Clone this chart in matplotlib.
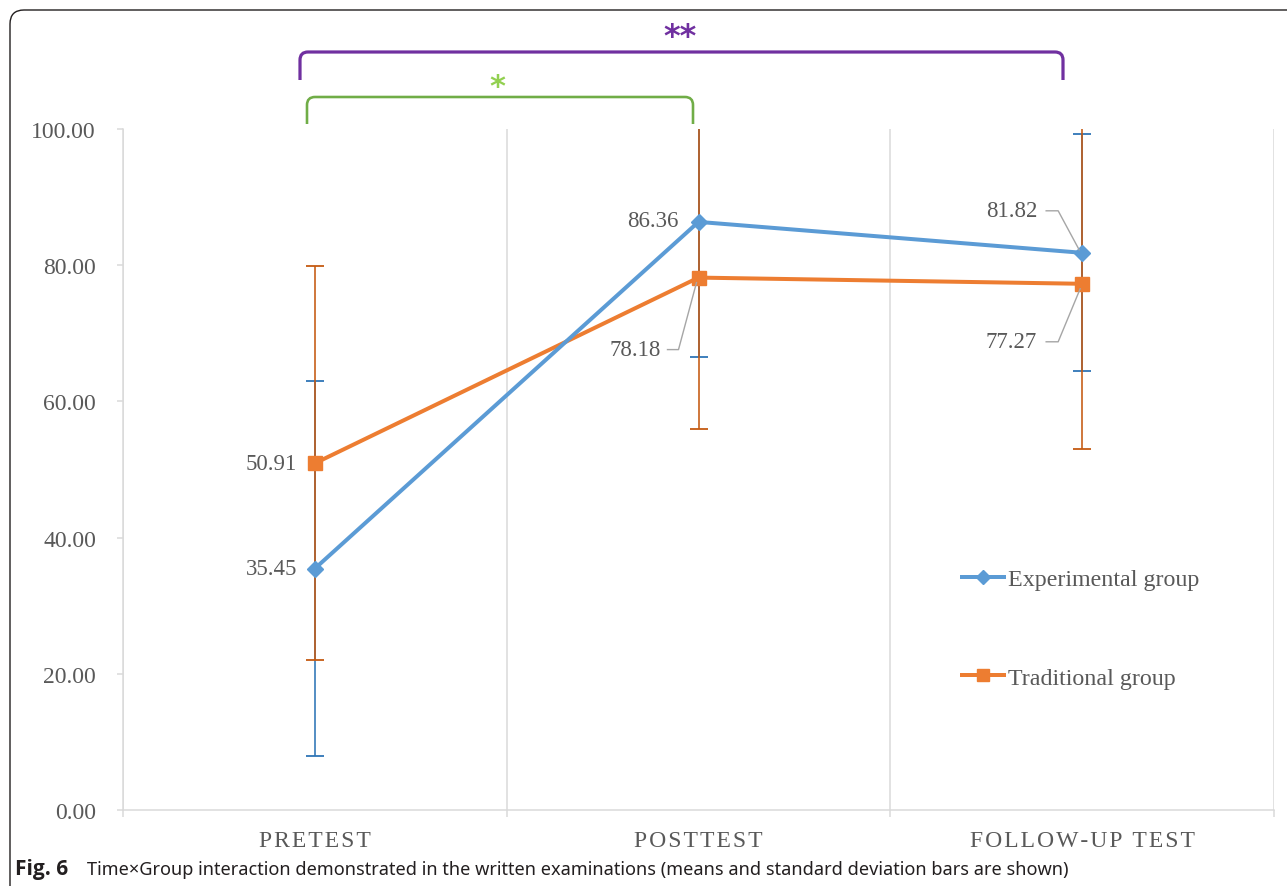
import matplotlib
matplotlib.use("Agg")
import matplotlib.pyplot as plt
from matplotlib.patches import FancyBboxPatch, PathPatch
from matplotlib.path import Path
from matplotlib.lines import Line2D
from matplotlib.transforms import IdentityTransform
from matplotlib.ticker import FixedLocator, FuncFormatter

# ---- data -------------------------------------------------------------
categories = ["PRETEST", "POSTTEST", "FOLLOW-UP TEST"]
series_names = ["Experimental group", "Traditional group"]
experimental_mean = [35.45, 86.36, 81.82]
experimental_sd = [27.5, 19.9, 17.4]
traditional_mean = [50.91, 78.18, 77.27]
traditional_sd = [28.9, 22.3, 24.3]
yticks = [0, 20, 40, 60, 80, 100]
caption_bold = "Fig. 6"
caption_text = "Time\u00d7Group interaction demonstrated in the written examinations (means and standard deviation bars are shown)"

# ---- style ------------------------------------------------------------
W, H = 1287, 887
SERIF = ["Liberation Serif", "DejaVu Serif"]
TXT = "#595959"
GRID = "#d9d9d9"
BLUE, BLUE_ERR = "#5b9bd5", "#2e75b6"
ORANGE, ORANGE_ERR = "#ed7d31", "#c55a11"
PURPLE, GREEN, LIGHT_GREEN = "#7030a0", "#70ad47", "#92d050"
PX = 72 / 100  # points per pixel at 100 dpi

fig = plt.figure(figsize=(W / 100, H / 100), dpi=100)
ax = fig.add_axes([123 / W, 1 - 811 / H, (1274 - 123) / W, (811 - 130) / H])

x = [1, 2, 3]
ax.set_xlim(0.5, 3.5)
ax.set_ylim(0, 100)

# standard deviation bars (traditional drawn over experimental)
ax.errorbar(x, experimental_mean, yerr=experimental_sd, fmt="none",
            ecolor=BLUE_ERR, elinewidth=1.6 * PX, capsize=9 * PX,
            capthick=1.8 * PX, zorder=2)
ax.errorbar(x, traditional_mean, yerr=traditional_sd, fmt="none",
            ecolor=ORANGE_ERR, elinewidth=1.6 * PX, capsize=9 * PX,
            capthick=1.8 * PX, zorder=3)

# mean lines
l_exp, = ax.plot(x, experimental_mean, color=BLUE, lw=4 * PX,
                 marker="D", ms=11 * PX, mec=BLUE, mfc=BLUE,
                 label=series_names[0], zorder=5)
l_trad, = ax.plot(x, traditional_mean, color=ORANGE, lw=4 * PX,
                  marker="s", ms=14 * PX, mec=ORANGE, mfc=ORANGE,
                  label=series_names[1], zorder=4)

# axes styling
for side in ("top", "right"):
    ax.spines[side].set_visible(False)
for side in ("left", "bottom"):
    ax.spines[side].set_color(GRID)
    ax.spines[side].set_linewidth(1.5 * PX)

ax.yaxis.set_major_locator(FixedLocator(yticks))
ax.yaxis.set_major_formatter(FuncFormatter(lambda v, p: f"{v:.2f}"))
ax.tick_params(axis="y", colors=GRID, labelcolor=TXT, length=6 * PX,
               width=1.5 * PX, pad=21 * PX, labelsize=17)
for lab in ax.get_yticklabels():
    lab.set_family(SERIF)

HAIR = "\u200a"
spaced = [HAIR.join(c) for c in categories]
ax.set_xticks(x)
ax.set_xticklabels(spaced, family=SERIF, fontsize=17, color=TXT)
ax.set_xticks([0.5, 1.5, 2.5, 3.5], minor=True)
ax.tick_params(axis="x", which="major", length=0, pad=20 * PX)
ax.tick_params(axis="x", which="minor", length=7 * PX, width=1.5 * PX,
               color=GRID)
ax.grid(which="minor", axis="x", color=GRID, lw=1.5 * PX)
ax.grid(which="major", visible=False)

# value labels
ident = IdentityTransform()


def to_disp(xv, yv):
    return ax.transData.transform((xv, yv))


def label(xv, yv, text, dx, dy, leader=None):
    ax.annotate(text, (xv, yv), xytext=(dx, dy), textcoords="offset pixels",
                ha="right", va="center", family=SERIF, fontsize=16.5,
                color=TXT, zorder=6)
    if leader:
        px, py = to_disp(xv, yv)
        xs = [px + a for a, b in leader]
        ys = [py + b for a, b in leader]
        fig.add_artist(Line2D(xs, ys, transform=ident, color="#a6a6a6",
                              lw=1.4 * PX, zorder=6))


label(1, experimental_mean[0], f"{experimental_mean[0]:.2f}", -18, 0)
label(1, traditional_mean[0], f"{traditional_mean[0]:.2f}", -18, 0)
label(2, experimental_mean[1], f"{experimental_mean[1]:.2f}", -20, 1)
label(2, traditional_mean[1], f"{traditional_mean[1]:.2f}", -38, -72,
      leader=[(-31, -72), (-20, -72), (-2, -5)])
label(3, experimental_mean[2], f"{experimental_mean[2]:.2f}", -45, 42,
      leader=[(-36, 42), (-24, 42), (-3, 3)])
label(3, traditional_mean[2], f"{traditional_mean[2]:.2f}", -45, -58,
      leader=[(-36, -58), (-24, -58), (-2, -5)])

# legend
leg = ax.legend(handles=[l_exp, l_trad], loc="center left",
                bbox_to_anchor=(962 / W, 1 - 629.5 / H),
                bbox_transform=fig.transFigure, frameon=False,
                prop={"family": SERIF, "size": 17.3}, labelcolor=TXT,
                handlelength=1.75, handletextpad=0.15, labelspacing=3.2,
                borderpad=0, borderaxespad=0, markerscale=0.85)


# significance brackets (pixel coordinates, origin top-left)
def bracket(x0, x1, yt, yb, color, lw, r=8):
    verts = [(x0, yb), (x0, yt + r), (x0, yt), (x0 + r, yt),
             (x1 - r, yt), (x1, yt), (x1, yt + r), (x1, yb)]
    codes = [Path.MOVETO, Path.LINETO, Path.CURVE3, Path.CURVE3,
             Path.LINETO, Path.CURVE3, Path.CURVE3, Path.LINETO]
    verts = [(vx, H - vy) for vx, vy in verts]
    fig.add_artist(PathPatch(Path(verts, codes), transform=ident,
                             fill=False, edgecolor=color, lw=lw * PX,
                             capstyle="butt", joinstyle="round"))


bracket(300, 1063, 53, 81, PURPLE, 3.2)
bracket(307, 693, 98, 125, GREEN, 2.6)
fig.text(680 / W, 1 - 38 / H, "**", color=PURPLE, fontsize=23,
         fontweight="bold", ha="center", va="center",
         family="DejaVu Sans")
fig.text(497 / W, 1 - 87 / H, "*", color=LIGHT_GREEN, fontsize=22,
         fontweight="bold", ha="center", va="center",
         family="DejaVu Sans")

# outer rounded frame
frame = FancyBboxPatch((10, -30), W + 30, H - 11 + 30,
                       boxstyle="round,pad=0,rounding_size=14",
                       transform=ident, fill=False, edgecolor="#231f20",
                       lw=1.4 * PX)
fig.add_artist(frame)

# caption
fig.text(15 / W, 1 - 870 / H, caption_bold,
         family=["Open Sans", "DejaVu Sans"],
         fontweight="bold", fontsize=15, ha="left", va="center",
         color="#231f20")
fig.text(87 / W, 1 - 870 / H, caption_text,
         family=["Noto Sans", "DejaVu Sans"],
         fontsize=13.1, ha="left", va="center", color="#231f20")

fig.savefig("out.png", dpi=100)
